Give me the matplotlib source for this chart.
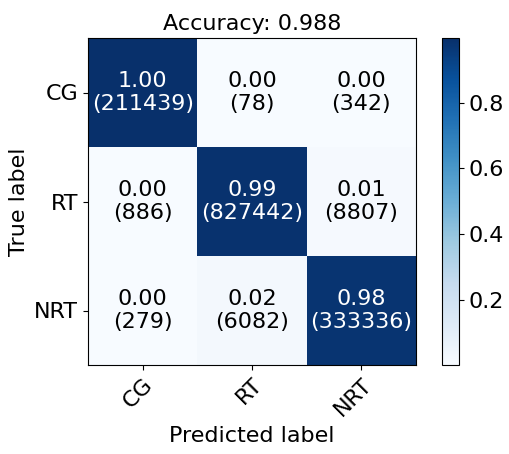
import numpy as np
import matplotlib
matplotlib.use("Agg")
import matplotlib.pyplot as plt

# ================================
# Data
# ================================
classes = ["CG", "RT", "NRT"]
row_cg = [211439, 78, 342]
row_rt = [886, 827442, 8807]
row_nrt = [279, 6082, 333336]

cm = np.array([row_cg, row_rt, row_nrt])
cm_norm = cm / cm.sum(axis=1, keepdims=True)
accuracy = np.trace(cm) / cm.sum()

# ================================
# Plot
# ================================
plt.rcParams["font.size"] = 16

fig = plt.figure(figsize=(5.1, 4.54), dpi=100)
ax = fig.add_axes([88 / 510, 1 - 365 / 454, 328 / 510, 327 / 454])
cax = fig.add_axes([442 / 510, 1 - 365 / 454, 17 / 510, 327 / 454])

im = ax.imshow(cm_norm, interpolation="nearest", cmap=plt.cm.Blues, aspect="auto")
cb = fig.colorbar(im, cax=cax)
cb.set_ticks([0.2, 0.4, 0.6, 0.8])

ax.set_title("Accuracy: {:.3f}".format(accuracy), fontsize=16)
ticks = np.arange(len(classes))
ax.set_xticks(ticks)
ax.set_xticklabels(classes, rotation=45, ha="right", rotation_mode="anchor")
ax.set_yticks(ticks)
ax.set_yticklabels(classes)

thresh = cm_norm.max() / 2.0
for i in range(cm.shape[0]):
    for j in range(cm.shape[1]):
        ax.text(j, i, "{:.2f}\n({})".format(cm_norm[i, j], cm[i, j]),
                ha="center", va="center", fontsize=16,
                color="white" if cm_norm[i, j] > thresh else "black")

ax.set_ylabel("True label")
ax.set_xlabel("Predicted label")

fig.savefig("out.png", dpi=100)
